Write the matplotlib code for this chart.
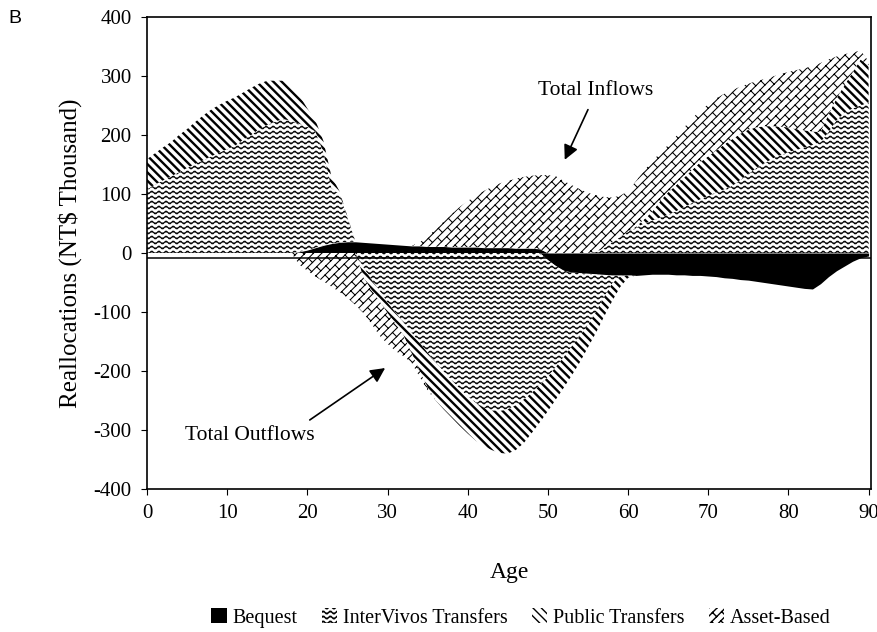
import warnings
import numpy as np
import matplotlib
matplotlib.use("Agg")
import matplotlib.pyplot as plt
import matplotlib.hatch as mhatch
from matplotlib.path import Path
from matplotlib.patches import Patch

# custom hatch characters ('~' waves, '#' bricks) are not in matplotlib's list
warnings.filterwarnings("ignore", category=matplotlib.MatplotlibDeprecationWarning)

ages = np.arange(0, 91)

# inflows (NT$ thousand), one value per age 0..90
bequest_in = [0, 0, 0, 0, 0, 0, 0, 0, 0, 0,
              0, 0, 0, 0, 0, 0, 0, 0, 0, 2,
              5, 9, 13, 16, 18, 19, 19, 18, 17, 16,
              15, 14, 13, 12, 12, 11, 11, 11, 10, 10,
              10, 10, 9, 9, 9, 9, 8, 8, 8, 7,
              0, 0, 0, 0, 0, 0, 0, 0, 0, 0,
              0, 0, 0, 0, 0, 0, 0, 0, 0, 0,
              0, 0, 0, 0, 0, 0, 0, 0, 0, 0,
              0, 0, 0, 0, 0, 0, 0, 0, 0, 0,
              0]
intervivos_in = [108, 116, 123, 130, 137, 144, 151, 157, 164, 170,
                 176, 182, 192, 200, 210, 217, 223, 227, 224, 217,
                 209, 197, 157, 94, 82, 41, 0, 0, 0, 0,
                 0, 0, 0, 0, 0, 0, 0, 0, 0, 0,
                 0, 0, 0, 0, 0, 0, 0, 0, 0, 0,
                 0, 0, 0, 0, 0, 0, 2, 8, 18, 27,
                 36, 43, 50, 55, 60, 65, 71, 78, 85, 91,
                 97, 103, 108, 114, 124, 134, 144, 152, 160, 166,
                 171, 175, 179, 183, 188, 205, 225, 238, 245, 250,
                 255]
public_in = [51, 53, 56, 58, 63, 66, 71, 76, 79, 81,
             82, 82, 80, 80, 77, 75, 69, 65, 58, 48,
             31, 19, 20, 20, 5, 2, 0, 0, 0, 0,
             0, 0, 0, 0, 0, 0, 0, 0, 0, 0,
             0, 0, 0, 0, 0, 0, 0, 0, 0, 0,
             0, 0, 0, 0, 0, 0, 0, 0, 0, 0,
             0, 2, 7, 15, 28, 38, 44, 50, 56, 63,
             67, 71, 76, 79, 78, 75, 69, 63, 55, 48,
             42, 35, 29, 23, 17, 30, 37, 47, 61, 78,
             63]
asset_in = [0, 0, 0, 0, 0, 0, 0, 0, 0, 0,
            0, 0, 0, 0, 0, 0, 0, 0, 0, 0,
            0, 0, 0, 0, 0, 0, 0, 0, 0, 0,
            0, 0, 0, 0, 6, 17, 29, 42, 56, 68,
            78, 87, 96, 103, 109, 113, 118, 121, 123, 125,
            132, 130, 122, 115, 108, 102, 96, 87, 76, 70,
            69, 77, 83, 85, 82, 80, 83, 85, 87, 88,
            88, 88, 86, 83, 80, 78, 78, 80, 84, 89,
            94, 100, 105, 111, 117, 93, 71, 52, 34, 15,
            7]

# outflows
bequest_out = [0] * 50 + [-12, -22, -30, -33, -34, -35, -36, -37, -38, -38,
                          -38, -38, -37, -36, -36, -36, -37, -37, -38, -38,
                          -39, -40, -42, -43, -45, -46, -48, -50, -52, -54,
                          -56, -58, -60, -61, -52, -40, -30, -22, -14, -8,
                          -5]
intervivos_out = ([0] * 27 + [-25, -45, -64,
                              -84, -101, -118, -135, -152, -169, -185, -201, -216, -230,
                              -243, -254, -262, -267, -268, -265, -258, -248, -237, -224,
                              -198, -171, -146, -125, -106, -87, -64, -38, -14, -2]
                  + [0] * 31)
public_out = ([0] * 27 + [-17, -18, -18,
                          -18, -19, -22, -35, -48, -59, -65, -64, -63, -63,
                          -63, -64, -65, -67, -71, -75, -76, -74, -68, -63,
                          -58, -55, -52, -49, -45, -38, -35, -33, -30, -18,
                          -4]
              + [0] * 30)
asset_out = ([0] * 19 + [-20,
                         -30, -40, -48, -57, -66, -76, -88, -60, -57, -58,
                         -52, -46, -35, -16, -10, -5]
             + [0] * 55)

series = ["Bequest", "InterVivos Transfers", "Public Transfers", "Asset-Based"]
inflows = [bequest_in, intervivos_in, public_in, asset_in]
outflows = [bequest_out, intervivos_out, public_out, asset_out]


class WavyHatch(mhatch.HatchPatternBase):
    """'~' : rows of small waves"""
    def __init__(self, hatch, density):
        self.rows = 20 if '~' in hatch else 0
        self.waves = 14
        self.pts = self.waves * 6 + 1
        self.num_vertices = self.rows * self.pts

    def set_vertices_and_codes(self, vertices, codes):
        x = np.linspace(0, 1, self.pts)
        for i in range(self.rows):
            s = slice(i * self.pts, (i + 1) * self.pts)
            vertices[s, 0] = x
            vertices[s, 1] = (i + 0.5) / self.rows + 0.014 * np.sin(2 * np.pi * self.waves * x)
            codes[s] = Path.LINETO
            codes[i * self.pts] = Path.MOVETO


class BrickHatch(mhatch.HatchPatternBase):
    """'#' : diagonal brick courses"""
    def __init__(self, hatch, density):
        self.n, self.m = 12, 5
        on = '#' in hatch
        self.courses = list(np.arange(-self.n, self.n + 1) / self.n) if on else []
        self.joints = ([((j + 0.5 * (k % 2)) / self.m, k / self.n)
                        for k in range(-self.n, self.n)
                        for j in range(-1, 2 * self.m + 2)] if on else [])
        self.num_vertices = 2 * len(self.courses) + 2 * len(self.joints)

    def set_vertices_and_codes(self, vertices, codes):
        # u = x + y runs along a course, v = y - x across them
        def xy(u, v):
            return ((u - v) / 2, (u + v) / 2)
        i = 0
        for v in self.courses:
            vertices[i] = xy(-1.0, v)
            vertices[i + 1] = xy(3.0, v)
            codes[i], codes[i + 1] = Path.MOVETO, Path.LINETO
            i += 2
        for u, v in self.joints:
            vertices[i] = xy(u, v)
            vertices[i + 1] = xy(u, v + 1.0 / self.n)
            codes[i], codes[i + 1] = Path.MOVETO, Path.LINETO
            i += 2


mhatch._hatch_types.append(WavyHatch)
mhatch._hatch_types.append(BrickHatch)

styles = {
    "Bequest": dict(fc="black", hatch=None, hlw=1.0),
    "InterVivos Transfers": dict(fc="white", hatch="~", hlw=0.8),
    "Public Transfers": dict(fc="white", hatch="\\" * 4, hlw=1.7),
    "Asset-Based": dict(fc="white", hatch="#", hlw=0.75),
}

plt.rcParams['font.family'] = ['Liberation Serif', 'DejaVu Serif']
plt.rcParams['axes.unicode_minus'] = False

fig = plt.figure(figsize=(8.78, 6.32), dpi=100)
ax = fig.add_axes([147 / 878, 1 - 489 / 632, (871 - 147) / 878, (489 - 17) / 632])


def band(lower, upper, st):
    with plt.rc_context({'hatch.linewidth': st['hlw']}):
        coll = ax.fill_between(ages, lower, upper, facecolor=st['fc'],
                               edgecolor='black', linewidth=0, hatch=st['hatch'])
    if hasattr(coll, 'set_hatch_linewidth'):
        coll.set_hatch_linewidth(st['hlw'])
    return coll


for stack in (inflows, outflows):
    base = np.zeros(len(ages))
    for name, vals in zip(series, stack):
        top = base + np.array(vals, dtype=float)
        band(base, top, styles[name])
        base = top

ax.axhline(-8, color='black', lw=1.1, zorder=3)

ax.set_xlim(0, 90.3)
ax.set_ylim(-400, 400)
ax.set_xticks(range(0, 91, 10))
ax.set_yticks(range(-400, 401, 100))
ax.tick_params(direction='out', length=4, width=0.8, labelsize=15, pad=7)
for sp in ax.spines.values():
    sp.set_linewidth(1.2)

ax.set_xlabel("Age", fontsize=17, labelpad=28)
ax.set_ylabel("Reallocations (NT$ Thousand)", fontsize=18, labelpad=8)

ax.annotate("", xy=(52.1, 158), xytext=(55.0, 243),
            arrowprops=dict(arrowstyle='-|>', color='black', lw=1.2,
                            mutation_scale=22, shrinkA=0, shrinkB=0))
ax.text(56.0, 275, "Total Inflows", ha='center', va='center', fontsize=15.5)
ax.annotate("", xy=(29.7, -195), xytext=(20.3, -283),
            arrowprops=dict(arrowstyle='-|>', color='black', lw=1.2,
                            mutation_scale=22, shrinkA=0, shrinkB=0))
ax.text(12.8, -310, "Total Outflows", ha='center', va='center', fontsize=15.5)

handles = []
for name in series:
    st = styles[name]
    with plt.rc_context({'hatch.linewidth': st['hlw']}):
        h = Patch(facecolor=st['fc'], edgecolor='black', linewidth=0, hatch=st['hatch'], label=name)
    if hasattr(h, 'set_hatch_linewidth'):
        h.set_hatch_linewidth(st['hlw'])
    handles.append(h)
fig.legend(handles=handles, loc='center', bbox_to_anchor=(521 / 878, 1 - 618 / 632),
           ncol=4, frameon=False, fontsize=14.5, handlelength=0.75, handleheight=0.75,
           handletextpad=0.3, columnspacing=1.2)

fig.text(8 / 878, 1 - 10 / 632, "B", ha='left', va='top', fontsize=14, family='Liberation Sans')

fig.savefig("out.png", dpi=100)
